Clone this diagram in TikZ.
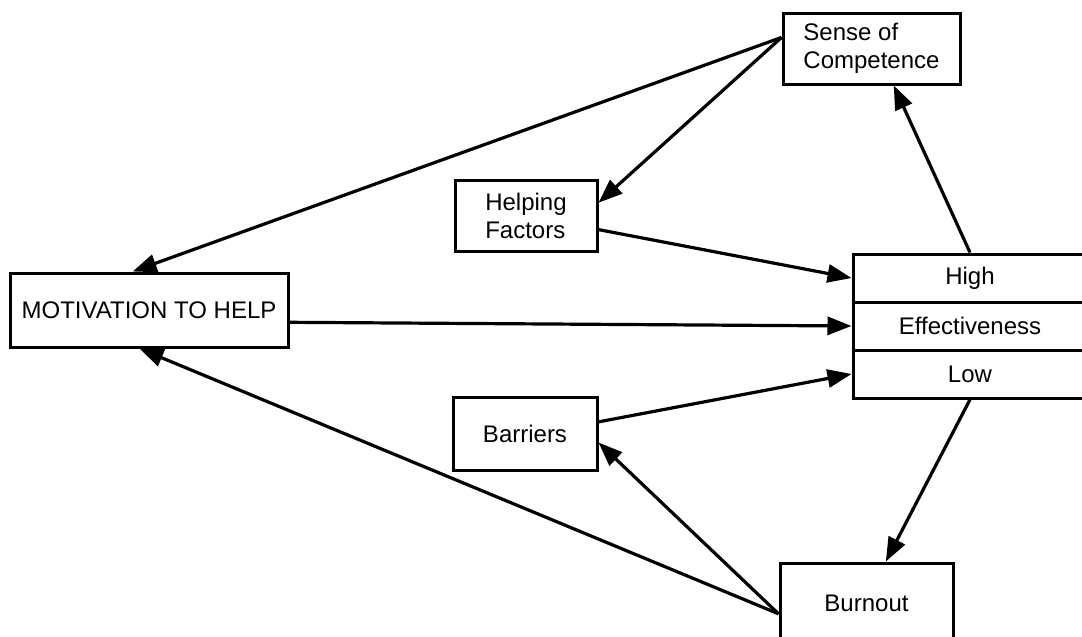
\documentclass[tikz,border=0pt]{standalone}
\usepackage{fontspec}
\setmainfont{Liberation Sans}
\usetikzlibrary{arrows.meta,positioning}

\begin{document}
\begin{tikzpicture}[x=0.5pt,y=-0.5pt,>={Triangle[length=12pt,width=9pt]},
	box/.style={draw,rectangle,line width=1.5pt,inner sep=0pt,align=left,font=\fontsize{12}{14}\selectfont},
	every edge/.style={draw,line width=1.6pt}]
	
	\useasboundingbox (0,0) rectangle (1082,637);
	
	\node[box,minimum width=139pt,minimum height=37pt] (motiv) at (149,310) {MOTIVATION TO HELP};
	\node[box,minimum width=88.5pt,minimum height=35.5pt] (comp) at (871.5,48.5) {Sense of\\Competence};
	\node[box,minimum width=71pt,minimum height=35.5pt] (help) at (526,215.5) {Helping\\Factors};
	\node[box,minimum width=72pt,minimum height=36.5pt] (barr) at (525,433.5) {Barriers};
	\node[box,minimum width=117pt,minimum height=24pt] (high) at (970,278) {High};
	\node[box,minimum width=117pt,minimum height=24pt] (effm) [below=-1.5pt of high] {Effectiveness};
	\node[box,minimum width=117pt,minimum height=24pt] (low) [below=-1.5pt of effm] {Low};
	\node[box,minimum width=86.5pt,minimum height=40pt] (burn) at (866.5,603) {Burnout};
	
	\path[->]
		(comp.173)	edge (motiv.113)
					edge (help.10)
		(help.-11)	edge (high.west)
		(motiv.-5)	edge (effm.west)
		(barr.9)	edge (low.west)
		(high.north) edge (comp.-59)
		(low.south)	edge (burn.65)
		(burn.187)	edge (barr.-7)
					edge (motiv.256);
	
\end{tikzpicture}
\end{document}
